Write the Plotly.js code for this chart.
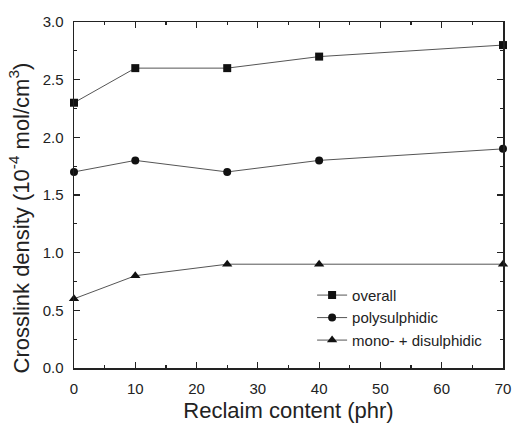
<!DOCTYPE html>
<html><head><meta charset="utf-8">
<script src="https://cdn.plot.ly/plotly-3.0.1.min.js"></script>
<style>html,body{margin:0;padding:0;background:#fff}#c{width:512px;height:429px}</style>
</head><body><div id="c"></div>
<script>
const reclaim = [0, 10, 25, 40, 70];
const overall = [2.3, 2.6, 2.6, 2.7, 2.8];
const polysulphidic = [1.7, 1.8, 1.7, 1.8, 1.9];
const monoDi = [0.6, 0.8, 0.9, 0.9, 0.9];
const names = ['overall', 'polysulphidic', 'mono- + disulphidic'];
const symbols = ['square', 'circle', 'triangle-up'];
const series = [overall, polysulphidic, monoDi];
const xTitle = 'Reclaim content (phr)';
const yTitle = 'Crosslink density (10<sup>-4</sup> mol/cm<sup>3</sup>)';

const traces = series.map((y, i) => ({
  x: reclaim, y: y, name: names[i], mode: 'lines+markers', type: 'scatter',
  line: {color: '#555', width: 1},
  marker: {symbol: symbols[i], size: i === 2 ? 9 : 8, color: '#111'},
  cliponaxis: false
}));

const font = {family: 'Liberation Sans, Arial, sans-serif', color: '#222'};
const axBase = {
  showgrid: false, zeroline: false, showline: true, linecolor: '#222', linewidth: 1.5,
  mirror: 'allticks', ticks: 'inside', ticklen: 6, tickwidth: 1.2, tickcolor: '#222',
  tickfont: Object.assign({size: 15}, font)
};
const layout = {
  width: 512, height: 429,
  margin: {l: 74, r: 9, t: 22, b: 61},
  paper_bgcolor: '#fff', plot_bgcolor: '#fff',
  font: font,
  showlegend: true,
  legend: {x: 0.555, y: 0.145, xanchor: 'left', yanchor: 'middle', bgcolor: 'rgba(0,0,0,0)',
           font: Object.assign({size: 15}, font), tracegroupgap: 0, itemwidth: 30},
  xaxis: Object.assign({}, axBase, {
    range: [0, 70], dtick: 10, tick0: 0, ticklabelstandoff: 6,
    minor: {dtick: 5, ticks: 'inside', ticklen: 3, tickcolor: '#222'},
    title: {text: xTitle, font: Object.assign({size: 22}, font), standoff: 7}
  }),
  yaxis: Object.assign({}, axBase, {
    range: [0, 3], dtick: 0.5, tick0: 0, tickformat: '.1f', ticklabelstandoff: 6,
    minor: {dtick: 0.25, ticks: 'inside', ticklen: 3, tickcolor: '#222'}
  }),
  annotations: [{
    text: yTitle, xref: 'paper', yref: 'paper', x: -0.126, y: 0.435,
    xanchor: 'center', yanchor: 'middle', textangle: -90, showarrow: false,
    font: Object.assign({size: 22}, font)
  }]
};
Plotly.newPlot('c', traces, layout, {displayModeBar: false, staticPlot: true});
</script></body></html>
